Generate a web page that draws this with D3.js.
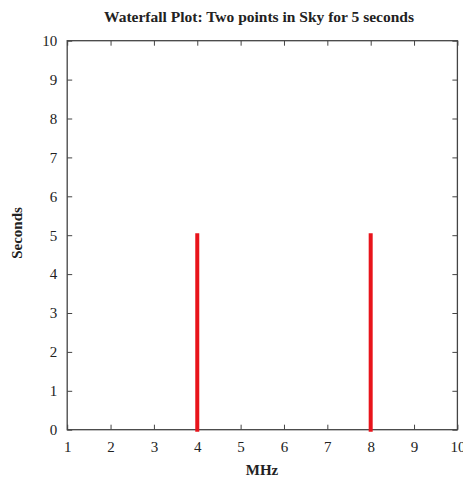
<!DOCTYPE html>
<html>
<head>
<meta charset="utf-8">
<script src="https://cdn.jsdelivr.net/npm/d3@7"></script>
<style>
  html, body { margin: 0; padding: 0; background: #fff; }
  svg { display: block; }
  text { font-family: "Liberation Serif", "Times New Roman", serif; fill: #222; }
</style>
</head>
<body>
<svg id="chart" width="463" height="478"></svg>
<script>
// Spectral impulses: frequency (MHz) and duration (seconds)
const frequencies = [4, 8];
const durations = [5, 5];
const xTicks = [1, 2, 3, 4, 5, 6, 7, 8, 9, 10];
const yTicks = [0, 1, 2, 3, 4, 5, 6, 7, 8, 9, 10];
const titleText = "Waterfall Plot: Two points in Sky for 5 seconds";
const xLabel = "MHz";
const yLabel = "Seconds";

const W = 463, H = 478;
const margin = { top: 40.7, right: 5.6, bottom: 48.3, left: 67.2 };
const svg = d3.select("#chart");
const innerW = W - margin.left - margin.right;
const innerH = H - margin.top - margin.bottom;

const x = d3.scaleLinear().domain([1, 10]).range([0, innerW]);
const y = d3.scaleLinear().domain([0, 10]).range([innerH, 0]);

const g = svg.append("g").attr("transform", `translate(${margin.left},${margin.top})`);
const frameColor = "#444";
const tickLen = 5;

// Axes with inward ticks on all four sides
const styleAxis = (sel) => {
  sel.select(".domain").remove();
  sel.selectAll(".tick line").attr("stroke", frameColor).attr("stroke-width", 1);
  sel.selectAll(".tick text").style("font-size", "15px").attr("fill", "#222");
};

g.append("g").attr("transform", `translate(0,${innerH})`)
  .call(d3.axisBottom(x).tickValues(xTicks).tickSize(-tickLen).tickPadding(12).tickFormat(d3.format("d")))
  .call(styleAxis);
g.append("g")
  .call(d3.axisTop(x).tickValues(xTicks).tickSize(-tickLen).tickFormat(""))
  .call(styleAxis);
g.append("g")
  .call(d3.axisLeft(y).tickValues(yTicks).tickSize(-tickLen).tickPadding(10).tickFormat(d3.format("d")))
  .call(styleAxis);
g.append("g").attr("transform", `translate(${innerW},0)`)
  .call(d3.axisRight(y).tickValues(yTicks).tickSize(-tickLen).tickFormat(""))
  .call(styleAxis);

// Plot frame
g.append("rect")
  .attr("x", 0).attr("y", 0).attr("width", innerW).attr("height", innerH)
  .attr("fill", "none").attr("stroke", frameColor).attr("stroke-width", 1.3);

// Impulses
g.selectAll("line.impulse")
  .data(frequencies.map((f, i) => ({ f, d: durations[i] })))
  .join("line")
  .attr("class", "impulse")
  .attr("x1", d => x(d.f)).attr("x2", d => x(d.f))
  .attr("y1", y(0)).attr("y2", d => y(d.d))
  .attr("stroke", "#e8141b").attr("stroke-width", 4)
  .attr("stroke-linecap", "square");

// Titles
svg.append("text")
  .attr("x", 259).attr("y", 21.5)
  .attr("text-anchor", "middle")
  .style("font-size", "15.5px").style("font-weight", "bold")
  .text(titleText);

svg.append("text")
  .attr("x", 262).attr("y", 475)
  .attr("text-anchor", "middle")
  .style("font-size", "15px").style("font-weight", "bold")
  .text(xLabel);

svg.append("text")
  .attr("transform", "translate(22,233) rotate(-90)")
  .attr("text-anchor", "middle")
  .style("font-size", "15px").style("font-weight", "bold")
  .text(yLabel);
</script>
</body>
</html>
